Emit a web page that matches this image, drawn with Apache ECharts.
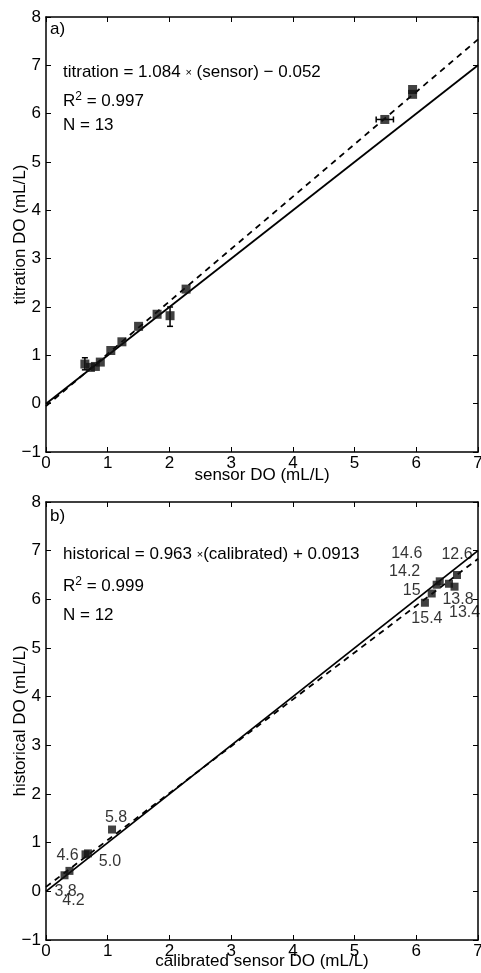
<!DOCTYPE html>
<html><head><meta charset="utf-8">
<script src="https://cdn.jsdelivr.net/npm/echarts@6/dist/echarts.min.js"></script>
<style>html,body{margin:0;padding:0;background:#fff}#c{width:481px;height:973px}</style>
</head><body><div id="c"></div>
<script>
// ---- Panel a data: [sensor DO, titration DO]
const pointsA = [
  [0.63,0.82],[0.72,0.75],[0.80,0.77],[0.88,0.86],[1.05,1.10],[1.23,1.28],
  [1.50,1.60],[1.80,1.85],[2.01,1.82],[2.27,2.37],[5.49,5.88],[5.94,6.40],[5.94,6.50]
];
// error bars: [x, y, xLow, xHigh, yLow, yHigh]
const errA = [
  [0.63,0.82,0.63,0.63,0.70,0.95],
  [2.01,1.82,2.01,2.01,1.60,2.00],
  [5.49,5.88,5.35,5.63,5.88,5.88]
];
const oneToOneA = [[0,0],[7,7]];
const fitA = [[0,-0.052],[7,7.536]];

// ---- Panel b data: [calibrated sensor DO, historical DO, label]
const pointsB = [
  [0.30,0.33,'3.8'],[0.38,0.42,'4.2'],[0.64,0.76,'4.6'],[0.68,0.78,'5.0'],[1.07,1.27,'5.8'],
  [6.14,5.93,'15.4'],[6.25,6.12,'15'],[6.33,6.30,'14.2'],[6.38,6.37,'14.6'],
  [6.53,6.32,'13.8'],[6.62,6.26,'13.4'],[6.66,6.50,'12.6']
];
const labelOffsetB = {
  '3.8':[1,16],'4.2':[4,30],'4.6':[-18,1],'5.0':[22,8],'5.8':[4,-12],
  '15.4':[2,16],'15':[-20,-3],'14.2':[-32,-13],'14.6':[-33,-28],
  '13.8':[9,16],'13.4':[10,26],'12.6':[0,-20]
};
const oneToOneB = [[0,0],[7,7]];
const fitB = [[0,0.0913],[7,6.8323]];

const yMin = -1, yMax = 8;

const FONT = 'Liberation Sans, Arial, Helvetica, sans-serif';
const chart = echarts.init(document.getElementById('c'));
const fmt = v => String(v).replace('-', '\u2212');

function xAx(gi, name, pos, gap){
  return {gridIndex:gi, type:'value', min:0, max:7, interval:1, position:pos,
    name: pos==='bottom'?name:'', nameLocation:'middle', nameGap:gap||15, nameMoveOverlap:false,
    nameTextStyle:{color:'#000', fontSize:17, fontFamily:FONT},
    axisLine:{show:true, onZero:false, lineStyle:{color:'#000', width:1.5}},
    axisTick:{show:true, inside:true, length:5, lineStyle:{color:'#000', width:1}},
    axisLabel:{show:pos==='bottom', color:'#000', fontSize:17, fontFamily:FONT, margin:3, formatter:fmt},
    splitLine:{show:false}};
}
function yAx(gi, name, pos){
  return {gridIndex:gi, type:'value', min:yMin, max:yMax, interval:1, position:pos,
    name: pos==='left'?name:'', nameLocation:'middle', nameGap:17, nameMoveOverlap:false,
    nameTextStyle:{color:'#000', fontSize:17, fontFamily:FONT},
    axisLine:{show:true, onZero:false, lineStyle:{color:'#000', width:1.5}},
    axisTick:{show:true, inside:true, length:5, lineStyle:{color:'#000', width:1}},
    axisLabel:{show:pos==='left', color:'#000', fontSize:17, fontFamily:FONT, margin:5, formatter:fmt},
    splitLine:{show:false}};
}

function errRender(params, api){
  const x=api.value(0), y=api.value(1), xl=api.value(2), xh=api.value(3), yl=api.value(4), yh=api.value(5);
  const children=[]; const st={stroke:'#000', lineWidth:1.5};
  if (yl!==yh){
    const a=api.coord([x,yl]), b=api.coord([x,yh]);
    children.push({type:'line', shape:{x1:a[0],y1:a[1],x2:b[0],y2:b[1]}, style:st});
    children.push({type:'line', shape:{x1:a[0]-3,y1:a[1],x2:a[0]+3,y2:a[1]}, style:st});
    children.push({type:'line', shape:{x1:b[0]-3,y1:b[1],x2:b[0]+3,y2:b[1]}, style:st});
  }
  if (xl!==xh){
    const a=api.coord([xl,y]), b=api.coord([xh,y]);
    children.push({type:'line', shape:{x1:a[0],y1:a[1],x2:b[0],y2:b[1]}, style:st});
    children.push({type:'line', shape:{x1:a[0],y1:a[1]-3,x2:a[0],y2:a[1]+3}, style:st});
    children.push({type:'line', shape:{x1:b[0],y1:b[1]-3,x2:b[0],y2:b[1]+3}, style:st});
  }
  return {type:'group', children};
}

const lineStyleSolid = {color:'#000', width:1.8, type:'solid'};
const lineStyleDash = {color:'#000', width:1.8, type:[6,5]};

const txt = (x,y,t) => ({type:'text', left:x, top:y, style:{text:t, fill:'#000', font:'17px '+FONT,
  rich:{sup:{fontSize:12, verticalAlign:'top', padding:[0,0,9,0], fontFamily:FONT, fill:'#000'}, sm:{fontSize:11, fontFamily:FONT, fill:'#000'}}}});

chart.setOption({
  animation:false,
  backgroundColor:'#fff',
  grid:[
    {left:46, top:17, right:3, height:435, containLabel:false, outerBoundsMode:'none'},
    {left:46, top:502, right:3, height:438, containLabel:false, outerBoundsMode:'none'}
  ],
  xAxis:[xAx(0,'sensor DO (mL/L)','bottom',15), xAx(0,'','top'), xAx(1,'calibrated sensor DO (mL/L)','bottom',13), xAx(1,'','top')],
  yAxis:[yAx(0,'titration DO (mL/L)','left'), yAx(0,'','right'), yAx(1,'historical DO (mL/L)','left'), yAx(1,'','right')],
  series:[
    {type:'line', xAxisIndex:0, yAxisIndex:0, data:oneToOneA, symbol:'none', lineStyle:lineStyleSolid, z:2},
    {type:'line', xAxisIndex:0, yAxisIndex:0, data:fitA, symbol:'none', lineStyle:lineStyleDash, z:2},
    {type:'custom', xAxisIndex:0, yAxisIndex:0, data:errA, renderItem:errRender, z:3},
    {type:'scatter', xAxisIndex:0, yAxisIndex:0, data:pointsA, symbol:'rect', symbolSize:9, itemStyle:{color:'#111'}, z:4},
    {type:'line', xAxisIndex:2, yAxisIndex:2, data:oneToOneB, symbol:'none', lineStyle:lineStyleSolid, z:2},
    {type:'line', xAxisIndex:2, yAxisIndex:2, data:fitB, symbol:'none', lineStyle:lineStyleDash, z:2},
    {type:'scatter', xAxisIndex:2, yAxisIndex:2, symbol:'rect', symbolSize:8, itemStyle:{color:'#111'}, z:4,
      data: pointsB.map(p => ({value:[p[0],p[1]], label:{show:true, formatter:p[2], position:'inside', offset:labelOffsetB[p[2]],
        color:'#000', textBorderWidth:0, textBorderColor:'transparent', fontSize:16, fontFamily:FONT}}))}
  ],
  graphic:[
    {type:'text', left:50, top:21, style:{text:'a)', fill:'#000', font:'17px '+FONT}},
    txt(63,64,'titration = 1.084 {sm|×} (sensor) \u2212 0.052'),
    txt(63,91,'R{sup|2} = 0.997'),
    txt(63,117,'N = 13'),
    {type:'text', left:50, top:508, style:{text:'b)', fill:'#000', font:'17px '+FONT}},
    txt(63,546,'historical = 0.963 {sm|×}(calibrated) + 0.0913'),
    txt(63,576,'R{sup|2} = 0.999'),
    txt(63,607,'N = 12')
  ]
});
</script></body></html>
